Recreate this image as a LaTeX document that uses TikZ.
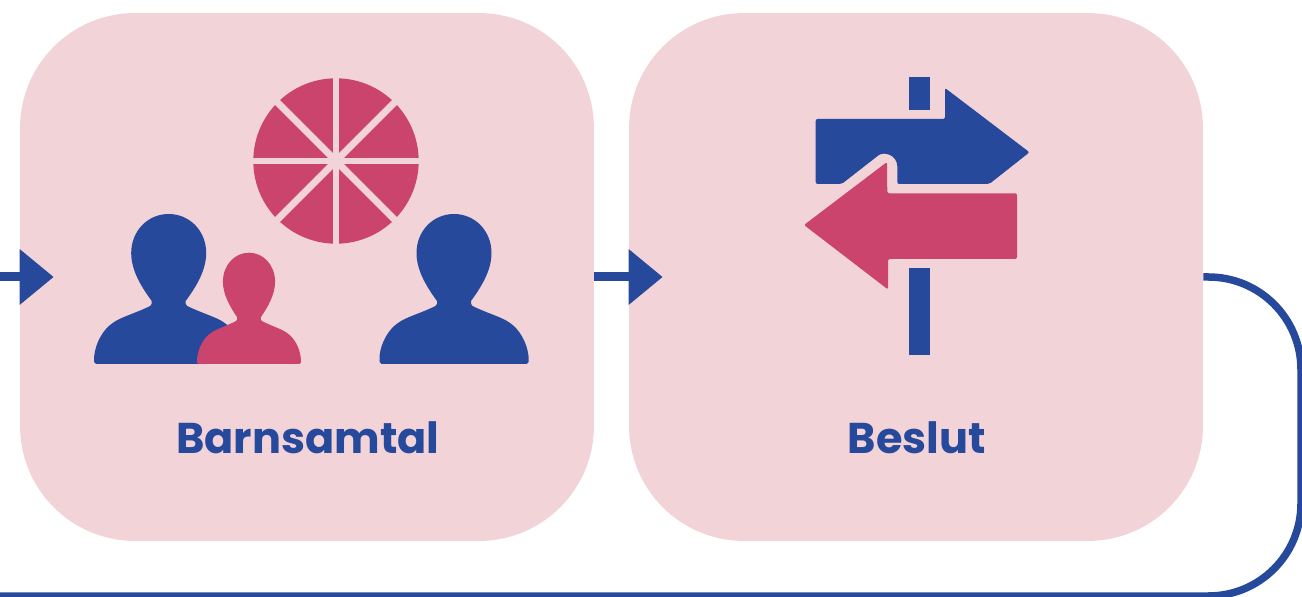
\documentclass[tikz,border=0pt]{standalone}
\usepackage{fontspec}
\setmainfont{Poppins}
\usetikzlibrary{arrows.meta}
\definecolor{navy}{HTML}{27499B}
\definecolor{rose}{HTML}{CB446D}
\definecolor{blush}{HTML}{F2D3D8}
\tikzset{
	stagebox/.style={fill=blush,rounded corners=2.3cm,minimum width=11.48cm,minimum height=10.56cm,inner sep=0pt},
	stagelabel/.style={text=navy,font=\fontsize{24.5}{24.5}\selectfont\bfseries,inner sep=0pt,anchor=base},
	flowline/.style={navy,line width=0.18cm,-{Triangle[length=0.68cm,width=1.07cm]},shorten >=-0.68cm},
	backline/.style={navy,line width=0.15cm,rounded corners=1.85cm},
	person/.pic={
		\fill[pic actions] (0,0) .. controls (21,0) and (37.5,17) .. (37.5,39)
			.. controls (37.5,56) and (28,72) .. (17,87)
			.. controls (16.5,89) and (17,91) .. (18.5,92)
			.. controls (35,100) and (48,103) .. (56,109)
			.. controls (65,115) and (73,128) .. (74.5,142)
			-- (74.5,148) -- (72.5,150) -- (-72.5,150) -- (-74.5,148) -- (-74.5,142)
			.. controls (-73,128) and (-65,115) .. (-56,109)
			.. controls (-48,103) and (-35,100) .. (-18.5,92)
			.. controls (-17,91) and (-16.5,89) .. (-17,87)
			.. controls (-28,72) and (-37.5,56) .. (-37.5,39)
			.. controls (-37.5,17) and (-21,0) .. (0,0) -- cycle;
	}
}
\begin{document}
\begin{tikzpicture}[x=0.02cm,y=-0.02cm]
	\useasboundingbox (0,0) rectangle (1302,597);
	\node[stagebox] (barnsamtal) at (307,277){};
	\node[stagebox] (beslut) at (916,277){};
	\node[stagelabel] (barnsamtaltext) at (308,454){Barnsamtal};
	\node[stagelabel] (beslutext) at (917,454){Beslut};
	\coordinate (incoming) at (0,277);
	\coordinate (backright) at (1301,277);
	\coordinate (backcorner) at (1301,596);
	\coordinate (backend) at (0,596);
	\draw[flowline] (incoming)--(barnsamtal);
	\draw[flowline] (barnsamtal)--(beslut);
	\draw[backline] (beslut.east)--(backright)--(backcorner)--(backend);
	\fill[rose] (336,161) circle (82.7);
	\foreach \a in {0,45,90,135}\draw[blush,line width=0.135cm] (336,161)+(\a:85)--+(\a+180:85);
	\pic[fill=navy] at (168.7,214) {person};
	\pic[fill=navy] at (454,214) {person};
	\pic[fill=rose,xscale=0.695,yscale=0.742] at (249,252.7) {person};
	\fill[navy] (908.7,76.7) rectangle (930,110);
	\fill[navy] (908.7,268) rectangle (930,355);
	\fill[navy,rounded corners=0.04cm] (815.7,119)--(945,119)--(945,88)--(1029.5,152.3)--(989.3,184)--(897.3,184)--(897.3,168)
		.. controls (897,155) and (884,151) .. (876.7,156.7)--(841.7,184)--(815.7,184)--cycle;
	\fill[rose,rounded corners=0.04cm] (804,225)--(887,162)--(887.3,193.3)--(1017,193.3)--(1017,259)--(888,259)--(888,289.5)--cycle;
\end{tikzpicture}
\end{document}
